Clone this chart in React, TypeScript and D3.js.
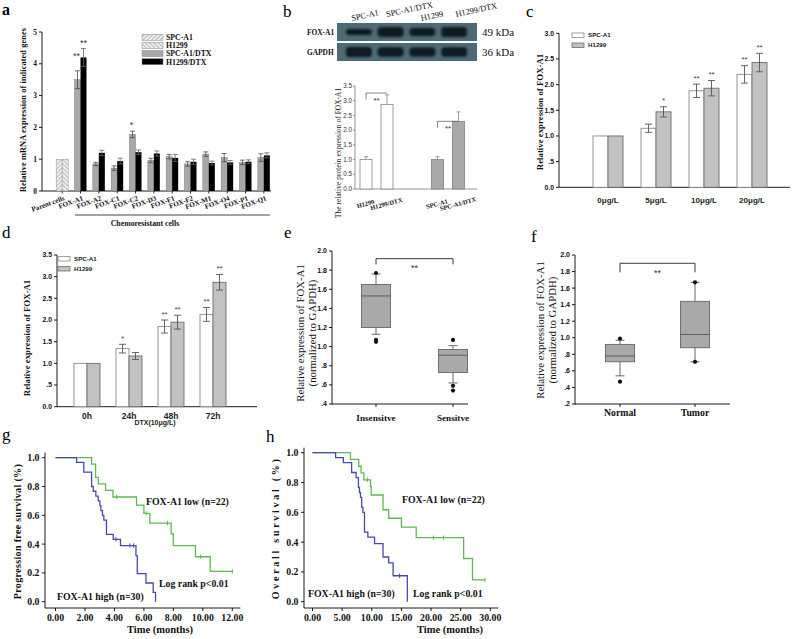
import React from "react";
import * as d3 from "d3";

const SERIF = "'Liberation Serif','Times New Roman',Times,serif";
const SANS = "'Liberation Sans',Arial,Helvetica,sans-serif";

// ---------------- Panel a ----------------
const aCategories = ["Parent cells", "FOX-A1", "FOX-A2", "FOX-C1", "FOX-C2", "FOX-D3", "FOX-F1", "FOX-F2", "FOX-M1", "FOX-O4", "FOX-P1", "FOX-Q1"];
const aLegend = ["SPC-A1", "H1299", "SPC-A1/DTX", "H1299/DTX"];
const aParent = [1.0, 1.0];
const aSpcDtx = [3.5, 0.85, 0.72, 1.78, 0.96, 1.08, 0.85, 1.16, 1.05, 0.9, 1.05];
const aSpcDtxErr = [0.28, 0.05, 0.07, 0.1, 0.07, 0.07, 0.07, 0.07, 0.13, 0.07, 0.12];
const aH1299Dtx = [4.2, 1.2, 0.94, 1.22, 1.18, 1.04, 0.92, 0.88, 0.9, 0.92, 1.12];
const aH1299DtxErr = [0.28, 0.08, 0.09, 0.07, 0.08, 0.11, 0.08, 0.06, 0.06, 0.06, 0.08];
const aSpcSig = ["**", "", "", "*", "", "", "", "", "", "", ""];
const aH1299Sig = ["**", "", "", "", "", "", "", "", "", "", ""];
const aYTicks = [0, 1, 2, 3, 4, 5];

// ---------------- Panel b ----------------
const bBlotLanes = ["SPC-A1", "SPC-A1/DTX", "H1299", "H1299/DTX"];
const bBlotRows = ["FOX-A1", "GAPDH"];
const bBlotKda = ["49 kDa", "36 kDa"];
const bBandFoxA1 = [0.45, 1.0, 0.7, 1.0];
const bBandGapdh = [1.0, 0.95, 0.85, 0.95];
const bGroups = ["H1299", "SPC-A1"];
const bBars = ["H1299", "H1299/DTX", "SPC-A1", "SPC-A1/DTX"];
const bValues = [1.0, 2.87, 1.0, 2.3];
const bErr = [0.1, 0.33, 0.1, 0.32];
const bYTicks = [0, 0.5, 1, 1.5, 2, 2.5, 3, 3.5];

// ---------------- Panel c ----------------
const cCats = ["0μg/L", "5μg/L", "10μg/L", "20μg/L"];
const cSeries = ["SPC-A1", "H1299"];
const cSpc = [1.0, 1.15, 1.88, 2.2];
const cSpcErr = [0, 0.08, 0.13, 0.17];
const cH1299 = [1.0, 1.47, 1.93, 2.43];
const cH1299Err = [0, 0.1, 0.15, 0.18];
const cSpcSig = ["", "", "**", "**"];
const cH1299Sig = ["", "*", "**", "**"];
const cYTicks = [0, 0.5, 1, 1.5, 2, 2.5, 3];

// ---------------- Panel d ----------------
const dCats = ["0h", "24h", "48h", "72h"];
const dSpc = [1.0, 1.34, 1.85, 2.13];
const dSpcErr = [0, 0.1, 0.15, 0.16];
const dH1299 = [1.0, 1.17, 1.95, 2.87];
const dH1299Err = [0, 0.08, 0.16, 0.18];
const dSpcSig = ["", "*", "**", "**"];
const dH1299Sig = ["", "", "**", "**"];
const dYTicks = [0, 0.5, 1, 1.5, 2, 2.5, 3, 3.5];

// ---------------- Panel e ----------------
const eGroups = ["Insensitve", "Sensitve"];
const eWhiskerLow = [1.13, 0.62];
const eQ1 = [1.2, 0.73];
const eMedian = [1.53, 0.91];
const eQ3 = [1.65, 0.97];
const eWhiskerHigh = [1.76, 1.01];
const eOutliers = [[1.77, 1.07, 1.05], [1.07, 0.59, 0.54]];
const eYTicks = [0.4, 0.6, 0.8, 1.0, 1.2, 1.4, 1.6, 1.8, 2.0];

// ---------------- Panel f ----------------
const fGroups = ["Normal", "Tumor"];
const fWhiskerLow = [0.54, 0.71];
const fQ1 = [0.71, 0.88];
const fMedian = [0.78, 1.04];
const fQ3 = [0.92, 1.44];
const fWhiskerHigh = [0.97, 1.67];
const fOutliers = [[0.99, 0.47], [1.67, 0.71]];
const fYTicks = [0.2, 0.4, 0.6, 0.8, 1.0, 1.2, 1.4, 1.6, 1.8, 2.0];

// ---------------- Panel g ----------------
const gLowTimes = [0, 2.45, 2.72, 2.9, 3.4, 3.9, 5.5, 6.0, 6.4, 7.85, 8.0, 9.5, 10.5, 12.0];
const gLowSurv = [1.0, 0.955, 0.864, 0.818, 0.773, 0.727, 0.67, 0.613, 0.546, 0.472, 0.39, 0.312, 0.21, 0.21];
const gLowCensor = [4.15, 6.15, 7.6, 9.85, 12.0];
const gHighTimes = [0, 1.43, 1.92, 2.45, 2.56, 2.74, 2.9, 3.01, 3.08, 3.19, 3.28, 3.46, 3.92, 4.41, 5.46, 5.55, 6.14, 6.63, 6.79];
const gHighSurv = [1.0, 0.967, 0.9, 0.8, 0.767, 0.733, 0.7, 0.667, 0.633, 0.6, 0.567, 0.467, 0.433, 0.39, 0.32, 0.195, 0.13, 0.065, 0.0];
const gHighCensor = [4.1, 5.05, 5.3];
const gXTicks = [0, 2, 4, 6, 8, 10, 12];
const survTicks = [0, 0.2, 0.4, 0.6, 0.8, 1.0];

// ---------------- Panel h ----------------
const hLowTimes = [0, 6.4, 7.8, 8.2, 8.66, 9.8, 9.9, 11.9, 12.85, 15.0, 17.5, 25.5, 27.0, 29.1];
const hLowSurv = [1.0, 0.955, 0.909, 0.864, 0.818, 0.773, 0.716, 0.617, 0.56, 0.5, 0.43, 0.29, 0.146, 0.146];
const hLowCensor = [9.3, 20.4, 22.1, 29.1];
const hHighTimes = [0, 3.9, 5.2, 6.6, 7.36, 7.75, 7.92, 8.1, 8.3, 8.5, 8.77, 9.34, 10.47, 11.9, 12.85, 13.6, 16.0];
const hHighSurv = [1.0, 0.967, 0.933, 0.867, 0.833, 0.767, 0.733, 0.7, 0.633, 0.6, 0.467, 0.433, 0.39, 0.3, 0.26, 0.174, 0.0];
const hHighCensor = [14.7];
const hXTicks = [0, 5, 10, 15, 20, 25, 30];

const GREEN = "#5fb852";
const BLUE = "#4a4aae";

const fmtDec = (t: number) => (t > 0 && t < 1 ? t.toFixed(1).slice(1) : t.toFixed(1));

function AxisY({ x, y, ticks, fmt, y1, y2, font, size, weight = "bold", color = "#111", tickLen = 3, gap = 2, stroke = "#000", sw = 0.9 }: any) {
  return (
    <g>
      <line x1={x} x2={x} y1={y1} y2={y2} stroke={stroke} strokeWidth={sw} />
      {ticks.map((t: number) => (
        <g key={t}>
          <line x1={x - tickLen} x2={x} y1={y(t)} y2={y(t)} stroke={stroke} strokeWidth={sw} />
          <text x={x - tickLen - gap} y={y(t)} dy="0.35em" textAnchor="end" fontFamily={font} fontSize={size} fontWeight={weight} fill={color}>
            {fmt(t)}
          </text>
        </g>
      ))}
    </g>
  );
}

function ErrBar({ x, y1, y2, cap, color = "#555", sw = 0.9 }: any) {
  return (
    <g stroke={color} strokeWidth={sw}>
      <line x1={x} x2={x} y1={y1} y2={y2} />
      <line x1={x - cap} x2={x + cap} y1={y1} y2={y1} />
      <line x1={x - cap} x2={x + cap} y1={y2} y2={y2} />
    </g>
  );
}

function Stars({ x, yTop, text, size, color = "#333" }: any) {
  if (!text) return null;
  return (
    <text x={x} y={yTop - 8 + size * 0.57} textAnchor="middle" fontFamily={SANS} fontSize={size} fill={color}>
      {text}
    </text>
  );
}

function RotLabel({ x, y, text, font, size, weight = "bold", len }: any) {
  return (
    <text transform={`translate(${x},${y}) rotate(-90)`} textAnchor="middle" fontFamily={font} fontSize={size} fontWeight={weight} fill="#111"
      {...(len ? { textLength: len, lengthAdjust: "spacing" } : {})}>
      {text}
    </text>
  );
}

function PanelA() {
  const x = d3.scaleBand<string>().domain(aCategories).range([53, 273]);
  const y = d3.scaleLinear().domain([0, 5]).range([191, 32]);
  const bw = 6;
  const cx = (k: string) => (x(k) as number) + x.bandwidth() / 2;
  const legY = d3.scalePoint<string>().domain(aLegend).range([37.3, 61.7]);
  const legFill = ["url(#hatchL)", "url(#hatchR)", "#a8a8a8", "#000"];
  return (
    <g>
      <text x={2} y={15} fontFamily={SERIF} fontWeight="bold" fontSize={16}>a</text>
      <AxisY x={42} y={y} ticks={aYTicks} fmt={(t: number) => String(t)} y1={y(5)} y2={y(0)} font={SERIF} size={7.5} />
      <line x1={42} x2={271} y1={y(0)} y2={y(0)} stroke="#000" strokeWidth={0.9} />
      {aCategories.map((k) => (
        <line key={k} x1={cx(k)} x2={cx(k)} y1={y(0)} y2={y(0) + 2.5} stroke="#000" strokeWidth={0.8} />
      ))}
      <rect x={cx(aCategories[0]) - bw} y={y(aParent[0])} width={bw} height={y(0) - y(aParent[0])} fill="url(#hatchL)" stroke="#999" strokeWidth={0.5} />
      <rect x={cx(aCategories[0])} y={y(aParent[1])} width={bw} height={y(0) - y(aParent[1])} fill="url(#hatchR)" stroke="#999" strokeWidth={0.5} />
      {aCategories.slice(1).map((k, i) => {
        const c = cx(k);
        return (
          <g key={k}>
            <rect x={c - bw} y={y(aSpcDtx[i])} width={bw} height={y(0) - y(aSpcDtx[i])} fill="#a8a8a8" stroke="#7a7a7a" strokeWidth={0.5} />
            <rect x={c} y={y(aH1299Dtx[i])} width={bw} height={y(0) - y(aH1299Dtx[i])} fill="#000" />
            <ErrBar x={c - bw / 2} y1={y(aSpcDtx[i] + aSpcDtxErr[i])} y2={y(aSpcDtx[i] - aSpcDtxErr[i])} cap={2.5} color="#4a4a4a" sw={0.8} />
            <ErrBar x={c + bw / 2} y1={y(aH1299Dtx[i] + aH1299DtxErr[i])} y2={y(aH1299Dtx[i] - aH1299DtxErr[i])} cap={2.5} color="#666" sw={0.8} />
            <Stars x={c - bw / 2 - 1} yTop={y(aSpcDtx[i] + aSpcDtxErr[i]) - (i === 0 ? 9 : 0)} text={aSpcSig[i]} size={9} />
            <Stars x={c + bw / 2} yTop={y(aH1299Dtx[i] + aH1299DtxErr[i])} text={aH1299Sig[i]} size={9} />
          </g>
        );
      })}
      {aCategories.map((k) => (
        <text key={k} transform={`translate(${cx(k) + 3},${200}) rotate(-20)`} textAnchor="end" fontFamily={SERIF} fontWeight="bold" fontSize={7} fill="#111">
          {k}
        </text>
      ))}
      <line x1={75} x2={270} y1={215} y2={215} stroke="#333" strokeWidth={0.9} />
      <text x={145} y={225.5} textAnchor="middle" fontFamily={SERIF} fontWeight="bold" fontSize={7.8} fill="#111">Chemoresistant cells</text>
      <RotLabel x={26} y={110} text="Relative mRNA expression of indicated genes" font={SERIF} size={8.3} len={164} />
      {aLegend.map((s, i) => (
        <g key={s}>
          <rect x={142} y={(legY(s) as number) - 3} width={21} height={6} fill={legFill[i]} stroke="#888" strokeWidth={0.5} />
          <text x={166} y={(legY(s) as number) + 2.8} fontFamily={SERIF} fontWeight="bold" fontSize={7.8} fill="#111">{s}</text>
        </g>
      ))}
    </g>
  );
}

function PanelB() {
  const lane = d3.scaleBand<string>().domain(bBlotLanes).range([343, 470]);
  const lc = (k: string) => (lane(k) as number) + lane.bandwidth() / 2;
  const rowY = d3.scaleBand<string>().domain(bBlotRows).range([23, 61]).paddingInner(0.1);
  const bands = [bBandFoxA1, bBandGapdh];
  const gx = d3.scalePoint<string>().domain(bGroups).range([376.5, 448]);
  const inner = d3.scalePoint<number>().domain([0, 1]).range([-10.5, 10.5]);
  const y = d3.scaleLinear().domain([0, 3.5]).range([189, 86]);
  const barX = (i: number) => (gx(bGroups[Math.floor(i / 2)]) as number) + (inner(i % 2) as number);
  const fills = ["#fff", "#fff", "#a9a9a9", "#a9a9a9"];
  return (
    <g>
      <text x={283} y={17} fontFamily={SERIF} fontSize={17}>b</text>
      {bBlotRows.map((r, ri) => (
        <g key={r}>
          <rect x={337} y={rowY(r)} width={140} height={rowY.bandwidth()} fill="#4d6a76" />
          {bBlotLanes.map((l, li) => {
            const h = 3 + 7 * bands[ri][li];
            const cy = (rowY(r) as number) + rowY.bandwidth() / 2;
            return <rect key={l} x={lc(l) - 13} y={cy - h / 2} width={26} height={h} rx={4} fill="#0e1a20" filter="url(#blotBlur)" />;
          })}
          <text x={307} y={(rowY(r) as number) + rowY.bandwidth() / 2 + 2.6} fontFamily={SERIF} fontWeight="bold" fontSize={7.4} fill="#111">{r}</text>
          <text x={482} y={(rowY(r) as number) + rowY.bandwidth() / 2 + 3.8} fontFamily={SERIF} fontSize={11} fill="#111">{bBlotKda[ri]}</text>
        </g>
      ))}
      {bBlotLanes.map((l, i) => (
        <text key={l} transform={`translate(${lc(l) - 7 + i * 3},${i % 2 ? 17 : 21}) rotate(-12)`} textAnchor="start" fontFamily={SERIF} fontSize={8.4} fill="#111">
          {l}
        </text>
      ))}
      <AxisY x={355} y={y} ticks={bYTicks} fmt={(t: number) => t.toFixed(1)} y1={y(3.5)} y2={y(0)} font={SANS} size={6.3} weight="normal" color="#333" stroke="#666" sw={0.7} tickLen={2} gap={1} />
      <line x1={355} x2={477} y1={y(0)} y2={y(0)} stroke="#666" strokeWidth={0.7} />
      {bBars.map((b, i) => {
        const c = barX(i);
        return (
          <g key={b}>
            <line x1={c} x2={c} y1={y(bValues[i] + bErr[i])} y2={y(bValues[i])} stroke="#888" strokeWidth={0.8} />
            <line x1={c - 2} x2={c + 2} y1={y(bValues[i] + bErr[i])} y2={y(bValues[i] + bErr[i])} stroke="#888" strokeWidth={0.8} />
            <rect x={c - 6} y={y(bValues[i])} width={12} height={y(0) - y(bValues[i])} fill={fills[i]} stroke="#777" strokeWidth={0.7} />
            <text transform={`translate(${c},${206}) rotate(-15)`} textAnchor="middle" fontFamily={SERIF} fontWeight="bold" fontSize={6.4} fill="#111">{b}</text>
          </g>
        );
      })}
      {[0, 1].map((g) => {
        const l = barX(g * 2), r = barX(g * 2 + 1);
        const top = y(bValues[g * 2 + 1]) - (g === 0 ? 11.5 : 0);
        return (
          <g key={g}>
            <path d={`M${l},${top + 6.5}V${top}H${r}`} fill="none" stroke="#555" strokeWidth={0.7} />
            <text x={(l + r) / 2} y={top + 9.5} textAnchor="middle" fontFamily={SANS} fontSize={8} fill="#333">**</text>
          </g>
        );
      })}
      <RotLabel x={341} y={153} text="The relative protein expression of FOX-A1" font={SERIF} size={7.2} weight="normal" len={130} />
    </g>
  );
}

function GroupedBars({ cats, s1, e1, sig1, s2, e2, sig2, x, y, bw, starSize }: any) {
  return (
    <g>
      {cats.map((k: string, i: number) => {
        const c = (x(k) as number) + x.bandwidth() / 2;
        return (
          <g key={k}>
            <rect x={c - bw} y={y(s1[i])} width={bw} height={y(0) - y(s1[i])} fill="#fff" stroke="#8a8a8a" strokeWidth={0.9} />
            <rect x={c} y={y(s2[i])} width={bw} height={y(0) - y(s2[i])} fill="#c2c2c2" stroke="#6e6e6e" strokeWidth={0.9} />
            {e1[i] > 0 && <ErrBar x={c - bw / 2} y1={y(s1[i] + e1[i])} y2={y(s1[i] - e1[i])} cap={3.5} color="#555" />}
            {e2[i] > 0 && <ErrBar x={c + bw / 2} y1={y(s2[i] + e2[i])} y2={y(s2[i] - e2[i])} cap={3.5} color="#555" />}
            <Stars x={c - bw / 2} yTop={y(s1[i] + e1[i])} text={sig1[i]} size={starSize} color="#444" />
            <Stars x={c + bw / 2} yTop={y(s2[i] + e2[i])} text={sig2[i]} size={starSize} color="#444" />
          </g>
        );
      })}
    </g>
  );
}

function Legend2({ x, y0, dy, names, size }: any) {
  const fills = ["#fff", "#c2c2c2"];
  const strokes = ["#8a8a8a", "#6e6e6e"];
  return (
    <g>
      {names.map((n: string, i: number) => (
        <g key={n}>
          <rect x={x} y={y0 + i * dy - 2} width={12} height={4.5} fill={fills[i]} stroke={strokes[i]} strokeWidth={0.8} />
          <text x={x + 16} y={y0 + i * dy + 2.3} fontFamily={SANS} fontWeight="bold" fontSize={size} fill="#222">{n}</text>
        </g>
      ))}
    </g>
  );
}

function PanelC() {
  const x = d3.scaleBand<string>().domain(cCats).range([584, 776]);
  const y = d3.scaleLinear().domain([0, 3]).range([187.3, 33.3]);
  return (
    <g>
      <text x={526} y={17} fontFamily={SERIF} fontSize={17}>c</text>
      <AxisY x={559} y={y} ticks={cYTicks} fmt={fmtDec} y1={y(3)} y2={y(0)} font={SANS} size={6.8} />
      <line x1={559} x2={790} y1={y(0)} y2={y(0)} stroke="#000" strokeWidth={0.9} />
      <GroupedBars cats={cCats} s1={cSpc} e1={cSpcErr} sig1={cSpcSig} s2={cH1299} e2={cH1299Err} sig2={cH1299Sig} x={x} y={y} bw={15} starSize={8} />
      {cCats.map((k) => (
        <text key={k} x={(x(k) as number) + x.bandwidth() / 2} y={203} textAnchor="middle" fontFamily={SANS} fontWeight="bold" fontSize={8} fill="#222">{k}</text>
      ))}
      <Legend2 x={572} y0={35} dy={10} names={cSeries} size={6.2} />
      <RotLabel x={543} y={112} text="Relative expression of FOX-A1" font={SERIF} size={8.8} />
    </g>
  );
}

function PanelD() {
  const x = d3.scaleBand<string>().domain(dCats).range([66, 234]);
  const y = d3.scaleLinear().domain([0, 3.5]).range([406.7, 255]);
  return (
    <g>
      <text x={2} y={238} fontFamily={SERIF} fontSize={17}>d</text>
      <AxisY x={57} y={y} ticks={dYTicks} fmt={fmtDec} y1={y(3.5)} y2={y(0)} font={SANS} size={6.8} />
      <line x1={57} x2={257} y1={y(0)} y2={y(0)} stroke="#000" strokeWidth={0.9} />
      <GroupedBars cats={dCats} s1={dSpc} e1={dSpcErr} sig1={dSpcSig} s2={dH1299} e2={dH1299Err} sig2={dH1299Sig} x={x} y={y} bw={13} starSize={8} />
      {dCats.map((k) => (
        <text key={k} x={(x(k) as number) + x.bandwidth() / 2} y={418.5} textAnchor="middle" fontFamily={SANS} fontWeight="bold" fontSize={8.5} fill="#222">{k}</text>
      ))}
      <text x={155} y={425} textAnchor="middle" fontFamily={SANS} fontWeight="bold" fontSize={7} fill="#222">DTX(10μg/L)</text>
      <Legend2 x={58} y0={258.5} dy={10} names={cSeries} size={6.2} />
      <RotLabel x={30} y={338} text="Relative expression of FOX-A1" font={SERIF} size={8.8} />
    </g>
  );
}

function BoxPanel({ groups, wl, q1, med, q3, wh, outl, x, y, bw }: any) {
  return (
    <g>
      {groups.map((g: string, i: number) => {
        const c = (x(g) as number) + x.bandwidth() / 2;
        return (
          <g key={g}>
            <line x1={c} x2={c} y1={y(wh[i])} y2={y(q3[i])} stroke="#555" strokeWidth={0.9} />
            <line x1={c} x2={c} y1={y(q1[i])} y2={y(wl[i])} stroke="#555" strokeWidth={0.9} />
            <line x1={c - 4.5} x2={c + 4.5} y1={y(wh[i])} y2={y(wh[i])} stroke="#555" strokeWidth={0.9} />
            <line x1={c - 4.5} x2={c + 4.5} y1={y(wl[i])} y2={y(wl[i])} stroke="#555" strokeWidth={0.9} />
            <rect x={c - bw / 2} y={y(q3[i])} width={bw} height={y(q1[i]) - y(q3[i])} fill="#a9a9a9" stroke="#666" strokeWidth={0.9} />
            <line x1={c - bw / 2} x2={c + bw / 2} y1={y(med[i])} y2={y(med[i])} stroke="#555" strokeWidth={0.9} />
            {outl[i].map((o: number, j: number) => (
              <circle key={j} cx={c} cy={y(o)} r={2.1} fill="#111" />
            ))}
          </g>
        );
      })}
    </g>
  );
}

function PanelE() {
  const x = d3.scaleBand<string>().domain(eGroups).range([337.5, 491.5]);
  const y = d3.scaleLinear().domain([0.4, 2.0]).range([404, 251]);
  const cx = (g: string) => (x(g) as number) + x.bandwidth() / 2;
  return (
    <g>
      <text x={284} y={238} fontFamily={SERIF} fontSize={17}>e</text>
      <AxisY x={332} y={y} ticks={eYTicks} fmt={fmtDec} y1={y(2.0)} y2={y(0.4) + 0.5} font={SANS} size={7} />
      <line x1={332} x2={468} y1={y(0.4)} y2={y(0.4)} stroke="#000" strokeWidth={0.9} />
      {eGroups.map((g) => (
        <g key={g}>
          <line x1={cx(g)} x2={cx(g)} y1={y(0.4)} y2={y(0.4) + 3} stroke="#000" strokeWidth={0.9} />
          <text x={cx(g)} y={421} textAnchor="middle" fontFamily={SERIF} fontWeight="bold" fontSize={9.2} fill="#111">{g}</text>
        </g>
      ))}
      <BoxPanel groups={eGroups} wl={eWhiskerLow} q1={eQ1} med={eMedian} q3={eQ3} wh={eWhiskerHigh} outl={eOutliers} x={x} y={y} bw={29} />
      <path d={`M${cx(eGroups[0])},${y(1.86)}V${y(1.92)}H${cx(eGroups[1])}V${y(1.86)}`} fill="none" stroke="#222" strokeWidth={0.9} />
      <text x={(cx(eGroups[0]) + cx(eGroups[1])) / 2} y={y(1.92) + 12} textAnchor="middle" fontFamily={SANS} fontSize={9} fill="#333">**</text>
      <RotLabel x={304} y={333} text="Relative expression of FOX-A1" font={SERIF} size={10.8} weight="normal" />
      <RotLabel x={316} y={333} text="(normalized to GAPDH)" font={SERIF} size={10.8} weight="normal" />
    </g>
  );
}

function PanelF() {
  const x = d3.scaleBand<string>().domain(fGroups).range([582.5, 732.5]);
  const y = d3.scaleLinear().domain([0.2, 2.0]).range([404, 255]);
  const cx = (g: string) => (x(g) as number) + x.bandwidth() / 2;
  return (
    <g>
      <text x={531} y={242} fontFamily={SERIF} fontSize={17}>f</text>
      <AxisY x={575} y={y} ticks={fYTicks} fmt={fmtDec} y1={y(2.0)} y2={y(0.2) + 0.5} font={SANS} size={7} />
      <line x1={575} x2={730} y1={y(0.2)} y2={y(0.2)} stroke="#000" strokeWidth={0.9} />
      {fGroups.map((g) => (
        <g key={g}>
          <line x1={cx(g)} x2={cx(g)} y1={y(0.2)} y2={y(0.2) + 3} stroke="#000" strokeWidth={0.9} />
          <text x={cx(g)} y={415.5} textAnchor="middle" fontFamily={SERIF} fontWeight="bold" fontSize={9.8} fill="#111">{g}</text>
        </g>
      ))}
      <BoxPanel groups={fGroups} wl={fWhiskerLow} q1={fQ1} med={fMedian} q3={fQ3} wh={fWhiskerHigh} outl={fOutliers} x={x} y={y} bw={29} />
      <path d={`M${cx(fGroups[0])},${y(1.79)}V${y(1.9)}H${cx(fGroups[1])}V${y(1.79)}`} fill="none" stroke="#222" strokeWidth={0.9} />
      <text x={(cx(fGroups[0]) + cx(fGroups[1])) / 2} y={y(1.9) + 13} textAnchor="middle" fontFamily={SANS} fontSize={9} fill="#333">**</text>
      <RotLabel x={544} y={330} text="Relative expression of FOX-A1" font={SERIF} size={10.8} weight="normal" />
      <RotLabel x={556} y={330} text="(normalized to GAPDH)" font={SERIF} size={10.8} weight="normal" />
    </g>
  );
}

function KMCurve({ x, y, times, surv, censor, color }: any) {
  const pts = times.map((t: number, i: number) => [t, surv[i]]);
  const line = d3.line<number[]>().x((d) => x(d[0])).y((d) => y(d[1])).curve(d3.curveStepAfter);
  const bis = d3.bisector((d: number) => d).right;
  return (
    <g>
      <path d={line(pts) as string} fill="none" stroke={color} strokeWidth={1.3} />
      {censor.map((c: number, i: number) => {
        const idx = Math.max(0, bis(times, c) - 1);
        const s = surv[idx];
        return <line key={i} x1={x(c)} x2={x(c)} y1={y(s) - 2.2} y2={y(s) + 2.2} stroke={color} strokeWidth={1} />;
      })}
    </g>
  );
}

function KMPanel({ letter, lx, ly, axisX, axisY, xr, xDomain, xTicks, yr, low, high, yLabel, yLabelX, yLabelLen, lowPos, highPos, pPos, titleX }: any) {
  const x = d3.scaleLinear().domain(xDomain).range(xr);
  const y = d3.scaleLinear().domain([0, 1]).range(yr);
  const fs = 9.8;
  return (
    <g>
      <text x={lx} y={ly} fontFamily={SERIF} fontSize={17}>{letter}</text>
      <AxisY x={axisX} y={y} ticks={survTicks} fmt={(t: number) => t.toFixed(1)} y1={y(1) - 5} y2={axisY} font={SERIF} size={fs} gap={2.5} />
      <line x1={axisX} x2={xr[1] + 8} y1={axisY} y2={axisY} stroke="#000" strokeWidth={0.9} />
      {xTicks.map((t: number) => (
        <g key={t}>
          <line x1={x(t)} x2={x(t)} y1={axisY} y2={axisY + 3} stroke="#000" strokeWidth={0.9} />
          <text x={x(t)} y={axisY + 13} textAnchor="middle" fontFamily={SERIF} fontWeight="bold" fontSize={fs} fill="#111">{t.toFixed(2)}</text>
        </g>
      ))}
      <text x={titleX} y={axisY + 25} textAnchor="middle" fontFamily={SERIF} fontWeight="bold" fontSize={10.5} fill="#111">Time (months)</text>
      <KMCurve x={x} y={y} {...low} color={GREEN} />
      <KMCurve x={x} y={y} {...high} color={BLUE} />
      <text x={lowPos[0]} y={lowPos[1]} fontFamily={SERIF} fontWeight="bold" fontSize={fs} fill="#111">FOX-A1 low (n=22)</text>
      <text x={highPos[0]} y={highPos[1]} fontFamily={SERIF} fontWeight="bold" fontSize={fs} fill="#111">FOX-A1 high (n=30)</text>
      <text x={pPos[0]} y={pPos[1]} fontFamily={SERIF} fontWeight="bold" fontSize={fs} fill="#111">Log rank p&lt;0.01</text>
      <RotLabel x={yLabelX} y={(y(1) + y(0)) / 2 + 2} text={yLabel} font={SERIF} size={10} len={yLabelLen} />
    </g>
  );
}

export default function App() {
  return (
    <svg width={794} height={639} viewBox="0 0 794 639" xmlns="http://www.w3.org/2000/svg" style={{ position: "absolute", left: 0, top: 0, background: "#fff" }}>
      <defs>
        <pattern id="hatchL" width="3" height="3" patternUnits="userSpaceOnUse" patternTransform="rotate(45)">
          <rect width="3" height="3" fill="#efefef" />
          <line x1="0" y1="0" x2="0" y2="3" stroke="#8c8c8c" strokeWidth="1.1" />
        </pattern>
        <pattern id="hatchR" width="3" height="3" patternUnits="userSpaceOnUse" patternTransform="rotate(-45)">
          <rect width="3" height="3" fill="#efefef" />
          <line x1="0" y1="0" x2="0" y2="3" stroke="#8c8c8c" strokeWidth="1.1" />
        </pattern>
        <filter id="blotBlur" x="-30%" y="-80%" width="160%" height="260%">
          <feGaussianBlur stdDeviation="1.3" />
        </filter>
      </defs>
      <rect width={794} height={639} fill="#fff" />
      <PanelA />
      <PanelB />
      <PanelC />
      <PanelD />
      <PanelE />
      <PanelF />
      <KMPanel letter="g" lx={2} ly={440} axisX={45} axisY={608} xr={[55.5, 232.3]} xDomain={[0, 12]} xTicks={gXTicks} yr={[601.7, 457.7]}
        low={{ times: gLowTimes, surv: gLowSurv, censor: gLowCensor }} high={{ times: gHighTimes, surv: gHighSurv, censor: gHighCensor }}
        yLabel="Progression free survival (%)" yLabelX={21} yLabelLen={135} lowPos={[146, 504.5]} highPos={[57, 599.5]} pPos={[159, 586.5]} titleX={160} />
      <KMPanel letter="h" lx={266} ly={442} axisX={304} axisY={608} xr={[312.5, 490.3]} xDomain={[0, 30]} xTicks={hXTicks} yr={[601.7, 452.7]}
        low={{ times: hLowTimes, surv: hLowSurv, censor: hLowCensor }} high={{ times: hHighTimes, surv: hHighSurv, censor: hHighCensor }}
        yLabel="Overall survival (%)" yLabelX={279} yLabelLen={140} lowPos={[402, 502.5]} highPos={[308, 596.5]} pPos={[413, 596.5]} titleX={450} />
    </svg>
  );
}
